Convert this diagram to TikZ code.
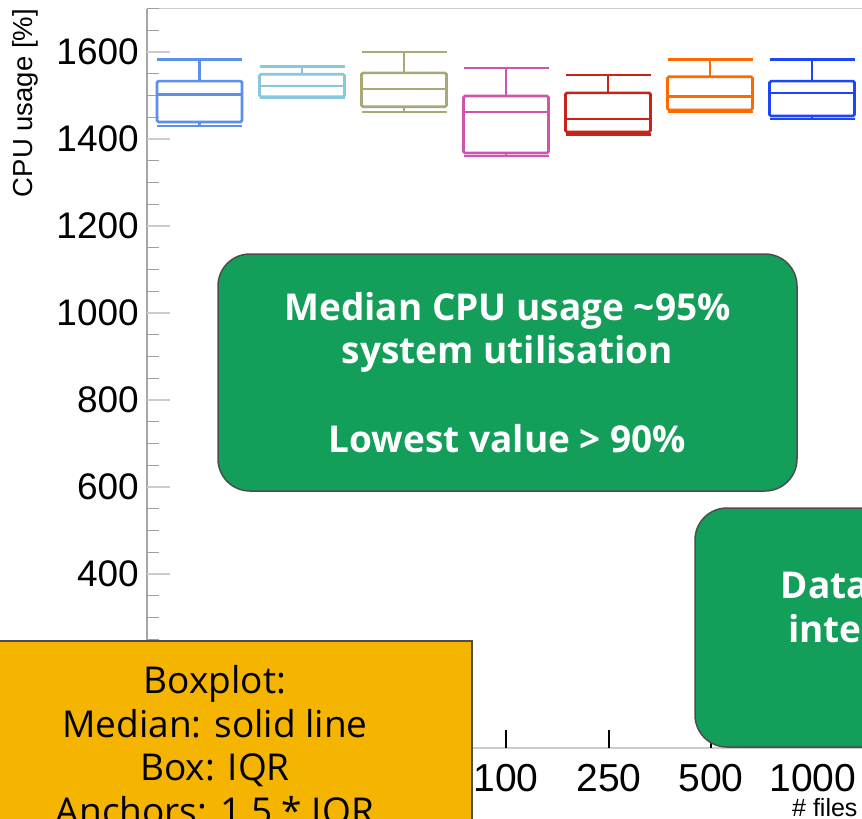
\documentclass[tikz,border=0pt]{standalone}
\usepackage{fontspec}
\setmainfont{Liberation Sans}
\newfontfamily\tagfont{Open Sans}
\usetikzlibrary{positioning}
\definecolor{boxblue}{RGB}{91,143,240}
\definecolor{boxcyan}{RGB}{135,200,222}
\definecolor{boxolive}{RGB}{170,168,120}
\definecolor{boxpink}{RGB}{205,85,175}
\definecolor{boxred}{RGB}{200,35,25}
\definecolor{boxorange}{RGB}{255,105,0}
\definecolor{boxroyal}{RGB}{30,70,245}
\definecolor{tagfill}{RGB}{19,158,89}
\definecolor{notefill}{RGB}{244,180,0}
\definecolor{edgegray}{RGB}{77,77,77}
\tikzset{
    frame/.style={draw=gray!40, line width=1.6pt},
    minortick/.style={draw=gray!75, line width=1.2pt},
    majortick/.style={draw=gray!40, line width=1.4pt},
    xtick/.style={draw=black, line width=1.4pt},
    statbox/.style={line width=2.7pt, rounded corners=1.5pt},
    ylab/.style={anchor=east, inner sep=0pt, font=\fontsize{37}{40}\selectfont},
    xlab/.style={anchor=base, inner sep=0pt, font=\fontsize{39}{44}\selectfont},
    tagbox/.style={draw=edgegray, line width=1.5pt, rounded corners=32pt, fill=tagfill},
    tagtext/.style={text=white, align=center, inner sep=0pt,
        font=\tagfont\bfseries\fontsize{37}{44}\selectfont},
    notebox/.style={draw=edgegray, line width=1.5pt, fill=notefill, align=center,
        inner xsep=0pt, inner ysep=25pt, font=\tagfont\fontsize{37}{43.5}\selectfont} }

\begin{document}
\begin{tikzpicture}[x=1pt, y=-1pt]
    \useasboundingbox (0,0) rectangle (862,819);
    \fill[white] (0,0) rectangle (862,819);
    \clip (0,0) rectangle (862,819);
    % ----
    \begin{scope}[y=0.435pt, yshift=-748pt]
        \draw[frame] (147,1700) -- (870,1700);
        \draw[frame, draw=gray!70] (147,1700) -- (147,200);
        \foreach \v in {250,300,...,1700}
            \draw[minortick] (147,\v) -- (159,\v);
        \foreach \v in {400,600,...,1600} {
            \draw[majortick] (147,\v) -- (170,\v);
            \node[ylab] (ylab\v) at (139,\v) {\v};
        }
        % ----
        \foreach \x/\lo/\qa/\md/\qb/\hi/\col in {
            199.5/1430/1439/1503/1533/1582/boxblue,
            302/1495/1497/1522/1549/1566/boxcyan,
            404/1462/1474/1515/1552/1600/boxolive,
            506/1361/1368/1462/1499/1563/boxpink,
            608/1411/1416/1446/1506/1547/boxred,
            710/1462/1467/1497/1543/1582/boxorange,
            812/1446/1453/1506/1533/1582/boxroyal} {
            \draw[statbox, draw=\col] (\x-42.5,\qa) rectangle (\x+42.5,\qb);
            \draw[statbox, draw=\col] (\x-42.5,\md) -- (\x+42.5,\md);
            \draw[statbox, draw=\col] (\x,\qb) -- (\x,\hi) (\x-42.5,\hi) -- (\x+42.5,\hi);
            \draw[statbox, draw=\col] (\x,\qa) -- (\x,\lo) (\x-42.5,\lo) -- (\x+42.5,\lo);
        }
    \end{scope}
    % ----
    \node[rotate=90, inner sep=0pt, font=\fontsize{27.5}{30}\selectfont] (ytitle) at (25,103) {CPU usage [\%]};
    \draw[frame] (147,748) -- (870,748);
    \foreach \x/\n in {506/100, 609/250, 711/500, 813/1000} {
        \draw[xtick] (\x,730) -- (\x,748);
        \node[xlab] (xlab\n) at (\x,791) {\n};
    }
    \node[anchor=base west, inner sep=0pt, font=\fontsize{25}{28}\selectfont] (xtitle) at (792,816) {\# files};
    % ----
    \node[tagbox, minimum width=579pt, minimum height=237pt] (cpubox) at (507.5,372.5) {};
    \node[tagtext, anchor=base] (cpuline1) at (cpubox.center |- 0,320) {Median CPU usage \textasciitilde95\%};
    \node[tagtext, anchor=base] (cpuline2) at (cpubox.center |- 0,363) {system utilisation};
    \node[tagtext, anchor=base] (cpuline3) at (cpubox.center |- 0,452) {Lowest value > 90\%};
    \node[tagbox, minimum width=260pt, minimum height=239pt] (databox) at (825,627.5) {};
    \node[tagtext, anchor=base] (dataline1) at (825,598) {Data};
    \node[tagtext, anchor=base] (dataline2) at (825,642) {inte};
    % ----
    \node[notebox, anchor=north, minimum width=514pt] (legend) at (215,640)
        {Boxplot:\\Median: solid line\\Box: IQR\\Anchors: 1.5 * IQR};
\end{tikzpicture}
\end{document}
